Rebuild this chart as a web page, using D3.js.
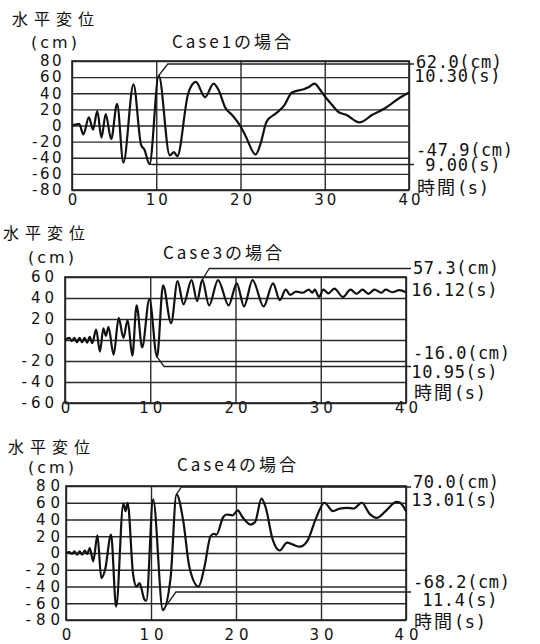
<!DOCTYPE html>
<html>
<head>
<meta charset="utf-8">
<script src="https://cdn.jsdelivr.net/npm/d3@7"></script>
<style>
  body { margin: 0; background: #fff; }
  svg { display: block; }
</style>
</head>
<body>
<svg id="chart" width="540" height="644"></svg>
<script>
// time (s), horizontal displacement (cm)
let case1 = [
  [0, 0], [0.4, 1], [0.85, 2], [1.35, -11], [2.0, 10], [2.5, -5], [3.0, 18], [3.5, -15],
  [4.0, 14], [4.65, -17], [5.35, 27], [6.1, -46], [7.3, 51], [8.2, -24], [8.6, -30],
  [9.2, -47.9], [10.3, 62.0], [11.6, -37], [12.1, -33], [12.5, -38], [13.8, 40], [14.7, 54],
  [15.8, 35], [16.8, 52], [17.4, 44], [18.2, 22], [19.0, 13], [20, -1], [20.6, -13],
  [21.8, -36], [22.4, -22], [23.1, 5], [24.2, 15], [25.2, 25], [26.1, 41], [27.5, 45],
  [28.0, 47], [28.8, 52], [29.4, 45], [30.1, 35], [30.9, 25], [31.6, 17], [32.6, 13],
  [34.1, 4], [34.5, 5], [35.6, 13], [37.1, 21], [39.0, 35], [40, 41]
]
let case3 = [
  [0, 0], [0.5, 2], [0.8, -1], [1.1, 2], [1.4, -2], [1.7, 2], [2.0, -2], [2.3, 2], [2.6, -2.5],
  [2.9, 3], [3.2, -3], [3.65, 10], [4.1, -11], [4.5, 11], [4.8, 4], [5.1, 12.5], [5.7, -14],
  [6.3, 21], [6.85, 2], [7.35, 19], [7.9, -15], [8.4, 33], [9.05, -7], [9.9, 39], [10.8, -16],
  [11.5, 52], [12.45, 16], [13.2, 56], [13.9, 34], [14.85, 57], [15.5, 37], [16.1, 57.3],
  [16.9, 33], [17.95, 57], [19.2, 33], [20.15, 54], [21.0, 32], [22.0, 57], [23.3, 32],
  [24.4, 54], [25.2, 38], [25.9, 48], [26.4, 43], [27.1, 46], [27.9, 45], [28.6, 48],
  [29.0, 45], [29.3, 48], [29.8, 41], [30.3, 48], [30.9, 44.5], [31.6, 49], [32.6, 41],
  [33.5, 48], [34.2, 44], [34.9, 48], [35.6, 44], [36.3, 48], [37.1, 45], [37.6, 48],
  [38.4, 45.5], [39.2, 47.5], [40, 45.5]
]
let case4 = [
  [0, 0], [0.4, 1], [0.7, -1], [1.0, 2], [1.3, -2], [1.6, 2], [1.9, -2], [2.2, 3], [2.5, -1],
  [2.8, 6], [3.2, -10], [3.7, 21], [4.15, -30], [4.6, -20], [5.3, 22], [5.9, -64], [6.75, 59],
  [7.0, 50], [7.25, 60], [7.9, -26], [8.3, -40], [8.65, -36], [9.2, -55], [9.45, -57],
  [10.25, 64], [11.4, -68.2], [12.3, -30], [13.0, 70.0], [13.8, 38], [14.5, -16], [15.6, -40],
  [16.3, -16], [17.0, 20], [17.4, 23], [17.7, 22], [18.5, 43], [18.9, 46], [19.6, 45],
  [20.2, 51], [20.75, 43], [21.7, 34], [22.25, 37], [23.0, 65], [23.5, 54], [24.3, 16.5],
  [25.15, 3], [26.0, 12.5], [26.7, 10], [27.5, 7.5], [28.4, 14.5], [29.4, 41], [30.4, 60],
  [31.4, 50], [32.2, 53], [33.1, 54], [33.8, 53], [34.8, 60], [35.7, 47], [36.6, 42],
  [37.6, 50], [38.9, 61], [39.3, 60], [40, 50]
]

let titles = ['Case1の場合', 'Case3の場合', 'Case4の場合']
let xTicks = [0, 10, 20, 30, 40]
let yTicks1 = [80, 60, 40, 20, 0, -20, -40, -60, -80]
let yTicks3 = [60, 40, 20, 0, -20, -40, -60]
let maxLabels = [['62.0(cm)', '10.30(s)'], ['57.3(cm)', '16.12(s)'], ['70.0(cm)', '13.01(s)']]
let minLabels = [['-47.9(cm)', '9.00(s)'], ['-16.0(cm)', '10.95(s)'], ['-68.2(cm)', '11.4(s)']]

let svg = d3.select('#chart')
let jp = "'Noto Sans CJK JP', sans-serif"
let mono = "'DejaVu Sans Mono', monospace"
let sans = "'DejaVu Sans', sans-serif"

// layout for each panel
let panels = [
  { data: case1, yTicks: yTicks1, left: 72, right: 409, top: 61, bottom: 190,
    head: [12, 25], unit: [31, 48], title: [233, 48], xLab: 205, xSpace: 3, ySpace: 2.5, yGap: 8,
    maxY: [68, 82], minY: [156, 170.5], timeY: 193.5,
    maxLead: { dx: 9, y: 64 }, minLead: { dx: 3, y: 164.5 } },
  { data: case3, yTicks: yTicks3, left: 65, right: 406, top: 277, bottom: 403,
    head: [3, 239], unit: [28, 263], title: [224, 259], xLab: 413, xSpace: 4, ySpace: 4, yGap: 7,
    maxY: [274, 296], minY: [359, 378], timeY: 399,
    maxLead: { dx: 7, y: 268.5 }, minLead: { dx: 7, y: 366.5 } },
  { data: case4, yTicks: yTicks1, left: 66, right: 406, top: 486, bottom: 620,
    head: [8, 453], unit: [28, 473], title: [238, 471], xLab: 640, xSpace: 5, ySpace: 5, yGap: 1,
    maxY: [488, 506], minY: [588, 606], timeY: 628,
    maxLead: { dx: 5, y: 487 }, minLead: { dx: 13, y: 592 } }
]

panels.forEach((p, i) => {
  let g = svg.append('g').attr('class', 'panel')

  let x = d3.scaleLinear().domain([0, 40]).range([p.left, p.right])
  let y = d3.scaleLinear()
    .domain([d3.min(p.yTicks), d3.max(p.yTicks)])
    .range([p.bottom, p.top])

  // horizontal grid + y labels
  let yAxis = g.append('g')
    .attr('transform', `translate(${p.left},0)`)
    .call(d3.axisLeft(y).tickValues(p.yTicks).tickSize(-(p.right - p.left))
      .tickPadding(p.yGap).tickFormat(d => String(d)))
  yAxis.select('.domain').remove()
  yAxis.selectAll('line').attr('stroke', '#2a2a2a').attr('stroke-width', 1.4)
  yAxis.selectAll('text')
    .attr('font-family', sans).attr('font-size', 15)
    .attr('letter-spacing', p.ySpace).attr('fill', '#111')

  // vertical grid + x labels
  let xAxis = g.append('g')
    .attr('transform', `translate(0,${p.bottom})`)
    .call(d3.axisBottom(x).tickValues(xTicks).tickSize(-(p.bottom - p.top)).tickPadding(0))
  xAxis.select('.domain').remove()
  xAxis.selectAll('line').attr('stroke', '#2a2a2a').attr('stroke-width', 1.4)
  xAxis.selectAll('text')
    .attr('y', null).attr('dy', null)
    .attr('transform', `translate(${p.xSpace / 2},${p.xLab - p.bottom})`)
    .attr('font-family', sans).attr('font-size', 15)
    .attr('letter-spacing', p.xSpace).attr('fill', '#111')

  g.append('rect')
    .attr('x', p.left).attr('y', p.top)
    .attr('width', p.right - p.left).attr('height', p.bottom - p.top)
    .attr('fill', 'none').attr('stroke', '#222').attr('stroke-width', 1.6)

  // displacement curve
  let line = d3.line()
    .x(d => x(d[0]))
    .y(d => y(d[1]))
    .curve(d3.curveMonotoneX)
  g.append('path')
    .datum(p.data)
    .attr('d', line)
    .attr('fill', 'none')
    .attr('stroke', '#111')
    .attr('stroke-width', 2.2)
    .attr('stroke-linejoin', 'round')

  // leaders from max / min to the labels
  let hi = p.data.reduce((a, b) => (b[1] > a[1] ? b : a))
  let lo = p.data.reduce((a, b) => (b[1] < a[1] ? b : a))
  let leadEnd = p.right + 5
  let lead = [
    [[x(hi[0]), y(hi[1])], [x(hi[0]) + p.maxLead.dx, p.maxLead.y], [leadEnd, p.maxLead.y]],
    [[x(lo[0]), y(lo[1])], [x(lo[0]) + p.minLead.dx, p.minLead.y], [leadEnd, p.minLead.y]]
  ]
  g.selectAll('.lead').data(lead).enter()
    .append('path')
    .attr('class', 'lead')
    .attr('d', d3.line())
    .attr('fill', 'none')
    .attr('stroke', '#222')
    .attr('stroke-width', 1.3)

  // headings
  g.append('text').attr('x', p.head[0]).attr('y', p.head[1])
    .attr('font-family', jp).attr('font-size', 16).attr('letter-spacing', 6)
    .attr('fill', '#111').text('水平変位')
  g.append('text').attr('x', p.unit[0]).attr('y', p.unit[1])
    .attr('font-family', sans).attr('font-size', 16).attr('letter-spacing', 3)
    .attr('fill', '#111').text('(cm)')
  g.append('text').attr('x', p.title[0]).attr('y', p.title[1])
    .attr('text-anchor', 'middle')
    .attr('font-family', jp).attr('font-size', 17).attr('letter-spacing', 3)
    .attr('fill', '#111').text(titles[i])

  // right-hand labels
  let rx = p.right + 7
  let lab = (txt, yy, anchor, xx) => g.append('text')
    .attr('x', xx).attr('y', yy).attr('text-anchor', anchor)
    .attr('font-family', mono).attr('font-size', 17).attr('letter-spacing', 0.6)
    .attr('fill', '#111')
    .text(txt)
  lab(maxLabels[i][0], p.maxY[0], 'start', rx)
  lab(maxLabels[i][1], p.maxY[1], 'end', rx + 85)
  lab(minLabels[i][0], p.minY[0], 'start', rx)
  lab(minLabels[i][1], p.minY[1], 'end', rx + 85)

  let t = g.append('text').attr('x', rx + 1).attr('y', p.timeY).attr('fill', '#111')
  t.append('tspan').attr('font-family', jp).attr('font-size', 18).attr('letter-spacing', 2).text('時間')
  t.append('tspan').attr('font-family', mono).attr('font-size', 17).attr('letter-spacing', 0.6).text('(s)')
})
</script>
</body>
</html>
